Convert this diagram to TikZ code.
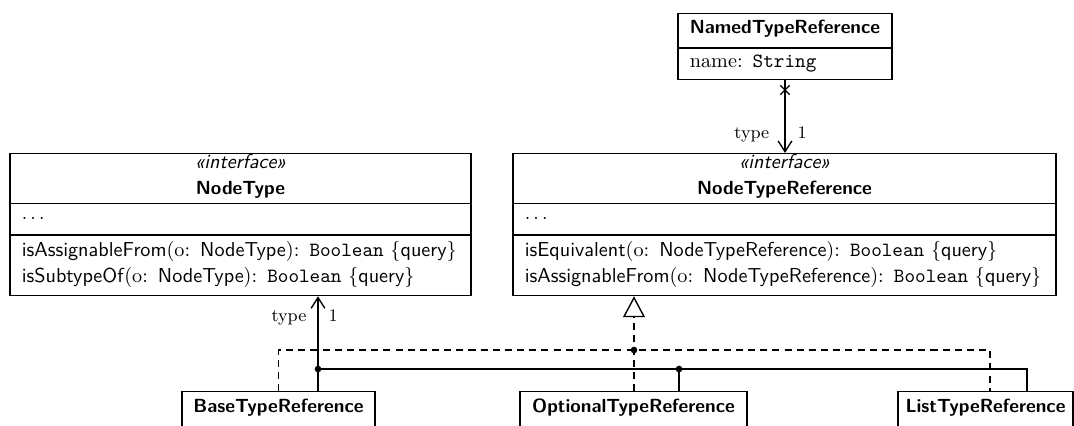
\documentclass[tikz,border=0pt]{standalone}
\usepackage{fontspec}
\usetikzlibrary{shapes.multipart,shapes.misc,arrows.meta}

\newcommand{\stereo}{\textsf{\itshape «interface»}}
\newcommand{\cname}[1]{{\sffamily\bfseries\fontsize{9.7}{12}\selectfont #1}}
\newcommand{\qry}{\{\textsf{query}\}}
\newcommand{\midline}[1]{\makebox[\hsize]{#1}}

\tikzset{
  umlclass/.style={draw, rectangle split, rectangle split parts=#1, anchor=north,
    inner ysep=0pt, inner xsep=6pt, align=left, font=\fontsize{10.3}{13.4}\selectfont},
  umlleaf/.style={draw, anchor=north, inner ysep=0pt, inner xsep=0pt},
  assoc/.style={-{Straight Barb[length=5.5pt,width=7pt]}},
  realize/.style={dash pattern=on 3.6pt off 2.6pt},
  lbl/.style={font=\small, inner sep=0pt},
}

\begin{document}
\begin{tikzpicture}[x=0.51pt,y=-0.51pt,line width=0.7pt]
\useasboundingbox (0,0) rectangle (1074,425);

% classes
\node[umlclass=2, text width=97pt] (named) at (785,13)
  {\midline{\rule[-7pt]{0pt}{16.8pt}\cname{NamedTypeReference}}
   \nodepart{two}\rule[-5.6pt]{0pt}{15.3pt}name: \texttt{String}};

\node[umlclass=3, text width=223.1pt] (nt) at (240.5,153)
  {\midline{\stereo}\\ \midline{\cname{NodeType}\rule[-4.2pt]{0pt}{4.2pt}}
   \nodepart{two}\rule[-7.6pt]{0pt}{15.3pt}$\ldots$
   \nodepart{three}\rule{0pt}{10.6pt}\textsf{isAssignableFrom}(o: \textsf{NodeType}): \texttt{Boolean} \qry\\
   \textsf{isSubtypeOf}(o: \textsf{NodeType}): \texttt{Boolean} \qry\rule[-6.1pt]{0pt}{6.1pt}};

\node[umlclass=3, text width=264.9pt] (ntr) at (784.5,153)
  {\midline{\stereo}\\ \midline{\cname{NodeTypeReference}\rule[-4.2pt]{0pt}{4.2pt}}
   \nodepart{two}\rule[-7.6pt]{0pt}{15.3pt}$\ldots$
   \nodepart{three}\rule{0pt}{10.6pt}\textsf{isEquivalent}(o: \textsf{NodeTypeReference}): \texttt{Boolean} \qry\\
   \textsf{isAssignableFrom}(o: \textsf{NodeTypeReference}): \texttt{Boolean} \qry\rule[-6.1pt]{0pt}{6.1pt}};

\node[umlleaf, minimum width=98.4pt] (base) at (278.5,391)
  {\rule[-7.5pt]{0pt}{18.1pt}\cname{BaseTypeReference}};
\node[umlleaf, minimum width=115.8pt] (opt) at (633.5,391)
  {\rule[-7.5pt]{0pt}{18.1pt}\cname{OptionalTypeReference}};
\node[umlleaf, minimum width=89.3pt] (list) at (985.5,391)
  {\rule[-7.5pt]{0pt}{18.1pt}\cname{ListTypeReference}};

% junctions
\coordinate (aj) at (318,369);
\coordinate (oj) at (679,369);
\coordinate (lj) at (1027,369);
\coordinate (rj) at (634,350);
\coordinate (rl) at (990,350);

% named -> node type reference
\node[draw, cross out, minimum size=4.1pt, inner sep=0pt] (nx) at (785,90) {};
\draw[assoc] (named.south) -- (ntr.north -| named.south)
  node[lbl, at end, anchor=base east, shift={(-7.7pt,7.3pt)}] {type}
  node[lbl, at end, anchor=base west, shift={(6.1pt,7.3pt)}] {1};

% type association
\draw[assoc] (base.north -| aj) -- (nt.south -| aj)
  node[lbl, at end, anchor=base east, shift={(-5.6pt,-12.8pt)}] {type}
  node[lbl, at end, anchor=base west, shift={(5.1pt,-12.8pt)}] {1};
\draw (list.north -| lj) |- (aj);
\draw (opt.north -| oj) -- (oj);

% realization
\draw[realize] (base.north) |- (rl) -- (list.north -| rl);
\draw[realize, -{Triangle[open, length=10.7pt, width=11.2pt, line width=0.7pt, fill=white]}]
  (opt.north -| rj) -- (ntr.south -| rj);

\foreach \j in {aj,oj,rj} \fill (\j) circle (1.7pt);
\end{tikzpicture}
\end{document}
